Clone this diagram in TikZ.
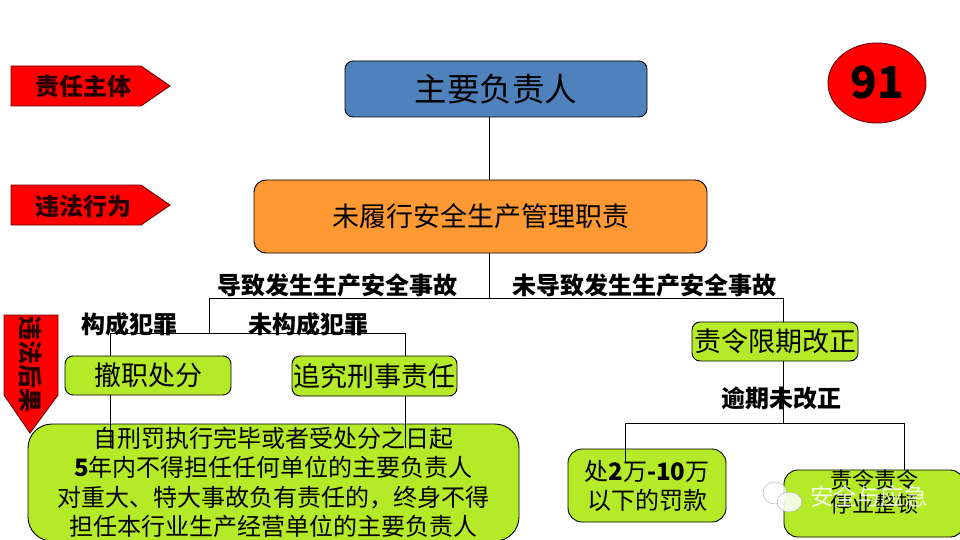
\documentclass[tikz,border=0pt]{standalone}
\usepackage{fontspec}
\setmainfont{Noto Sans CJK SC}
\definecolor{bossblue}{RGB}{79,129,189}
\definecolor{dutyorange}{RGB}{255,153,51}
\definecolor{penaltylime}{RGB}{180,234,40}
\definecolor{tagred}{RGB}{255,0,0}
\definecolor{tagedge}{RGB}{110,0,0}
\usetikzlibrary{shapes.geometric}

\begin{document}
\begin{tikzpicture}[x=1pt, y=-1pt,
    box/.style={rectangle, draw=black, fill=penaltylime, inner sep=0pt, outer sep=0pt, align=center,
                rounded corners=8pt, line width=0.9pt, font=\fontsize{27}{27}\selectfont},
    tag/.style={draw=tagedge, fill=tagred, line width=0.9pt},
    taglabel/.style={inner sep=0pt, font=\bfseries\fontsize{24}{24}\selectfont, text=black!85!tagred},
    caselabel/.style={inner sep=0pt, font=\bfseries\fontsize{24}{24}\selectfont},
    link/.style={draw=black, line width=1pt}]

    \clip (0,0) rectangle (960,540);
    \fill[white] (0,0) rectangle (960,540);

    \node[box, fill=bossblue, minimum width=302pt, minimum height=56pt, font=\fontsize{32.5}{32.5}\selectfont] (boss) at (496,89) {主要负责人};
    \node[box, fill=dutyorange, minimum width=453pt, minimum height=73pt, rounded corners=12pt] (duty) at (480.5,216.5) {未履行安全生产管理职责};
    \node[box, minimum width=166pt, minimum height=39pt] (dismiss) at (148,375.5) {撤职处分};
    \node[box, minimum width=165pt, minimum height=40pt] (criminal) at (374.5,376) {追究刑事责任};
    \node[box, minimum width=166pt, minimum height=39pt] (correct) at (775,341.5) {责令限期改正};
    \node[box, minimum width=491pt, minimum height=117pt, rounded corners=24pt, font=\fontsize{24}{29.3}\selectfont] (ban) at (273.5,482.5) {自刑罚执行完毕或者受处分之日起\\\textbf{5}年内不得担任任何单位的主要负责人\\对重大、特大事故负有责任的，终身不得\\担任本行业生产经营单位的主要负责人};
    \node[box, minimum width=158pt, minimum height=73pt, rounded corners=14pt, font=\fontsize{24}{29}\selectfont] (fine) at (647,485.5) {处\textbf{2}万\textbf{-10}万\\以下的罚款};
    \node[box, minimum width=180pt, minimum height=67pt, rounded corners=14pt, font=\fontsize{22}{24}\selectfont] (halt) at (874,503.5) {责令责令\\停业整顿\\~};

    \node[ellipse, draw=tagedge, fill=tagred, minimum width=98pt, minimum height=80pt, inner sep=0pt, line width=0.9pt, font=\bfseries\fontsize{44}{44}\selectfont] (num) at (877,83) {91};

    \draw[tag] (11,66) -- (141,66) -- (170,86) -- (141,106) -- (11,106) -- cycle;
    \draw[tag] (11,185) -- (141,185) -- (170,205) -- (141,225) -- (11,225) -- cycle;
    \draw[tag] (4,315) -- (58,315) -- (58,395) -- (30,433) -- (4,395) -- cycle;
    \node[taglabel] (subject) at (83,86) {责任主体};
    \node[taglabel] (conduct) at (83,206) {违法行为};
    \node[taglabel, rotate=-90] (result) at (31,364) {违法后果};

    \coordinate (jm) at (489,298);
    \coordinate (jl) at (209,298);
    \coordinate (jr) at (783,298);
    \coordinate (jc) at (209,333);
    \coordinate (ja) at (110,333);
    \coordinate (jb) at (405,333);
    \coordinate (jd) at (783,423);
    \coordinate (je) at (625,423);
    \coordinate (jf) at (904,423);
    \coordinate (ea) at (110,448);
    \coordinate (eb) at (405,448);
    \coordinate (ee) at (625,463);

    \draw[link] (jm |- boss.south) -- (jm |- duty.north);
    \draw[link] (jm |- duty.south) -- (jm);
    \draw[link] (jl) -- (jr);
    \draw[link] (jl) -- (jc);
    \draw[link] (ja) -- (jb);
    \draw[link] (ja) -- (ja |- dismiss.north);
    \draw[link] (jb) -- (jb |- criminal.north);
    \draw[link] (ja |- dismiss.south) -- (ea);
    \draw[link] (jb |- criminal.south) -- (eb);
    \draw[link] (jr) -- (jr |- correct.north);
    \draw[link] (jr |- correct.south) -- (jd);
    \draw[link] (je) -- (jf);
    \draw[link] (je) -- (ee);
    \draw[link] (jf) -- (jf |- halt.north);

    \node[caselabel] (accident) at (337.5,285) {导致发生生产安全事故};
    \node[caselabel] (noaccident) at (644.5,285) {未导致发生生产安全事故};
    \node[caselabel] (crime) at (129,324) {构成犯罪};
    \node[caselabel] (nocrime) at (308,324) {未构成犯罪};
    \node[caselabel] (overdue) at (781,398) {逾期未改正};

    \node[ellipse, draw=black!35, fill=white, minimum width=24pt, minimum height=22pt, inner sep=0pt, fill opacity=0.75] (chatback) at (775,493) {};
    \node[ellipse, draw=black!35, fill=white, minimum width=25pt, minimum height=20pt, inner sep=0pt, fill opacity=0.85] (chatfront) at (789.5,502) {};
    \node[inner sep=0pt, text=white, text opacity=0.85, font=\fontsize{23.5}{24}\selectfont] (mark) at (869,497) {安全与应急};
\end{tikzpicture}
\end{document}
